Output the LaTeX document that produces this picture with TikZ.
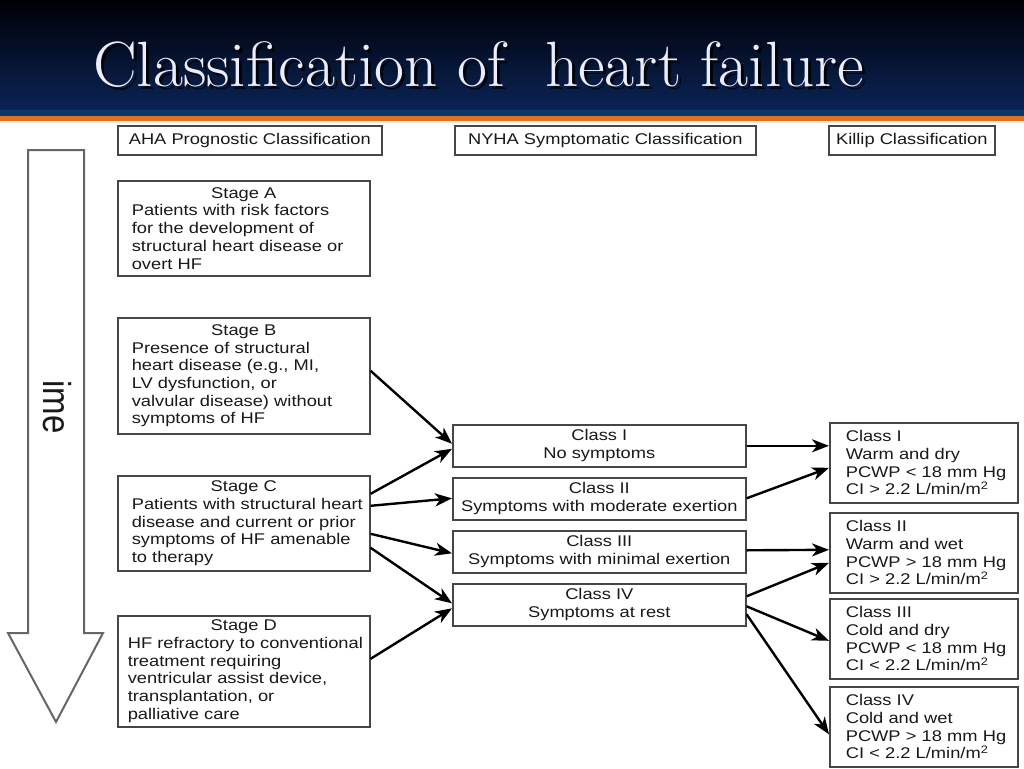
\documentclass[tikz,border=0pt]{standalone}
\usepackage{fontspec}
\usepackage{graphicx}
\newfontfamily\bodyfont{Liberation Sans}[FakeStretch=1.18]
\newfontfamily\plainsans{Liberation Sans}
\usetikzlibrary{arrows.meta,calc}
\definecolor{navytop}{RGB}{0,0,5}
\definecolor{navymid}{RGB}{3,16,46}
\definecolor{navybot}{RGB}{10,36,86}
\definecolor{bandblue}{RGB}{10,56,106}
\definecolor{orangeline}{RGB}{228,112,30}
\definecolor{titlecol}{RGB}{236,236,255}
\definecolor{boxline}{RGB}{70,70,70}
\definecolor{txtcol}{RGB}{25,25,25}
\newcommand{\hftitle}{\scalebox{1.02}[1]{\rmfamily\fontsize{64}{64}\selectfont Classification of\hspace{0.3em} heart failure}}
\begin{document}
\begin{tikzpicture}[x=1pt,y=-1pt,
  basebox/.style={draw=boxline, line width=1.6pt, fill=white, anchor=north west,
    inner ysep=0pt, text=txtcol, font=\bodyfont\fontsize{15.5}{17.7}\selectfont},
  stagebox/.style={basebox, align=left, minimum width=252pt},
  classbox/.style={basebox, align=center, minimum width=293pt, minimum height=42pt, inner xsep=0pt},
  killipbox/.style={basebox, align=left, text width=156pt, inner xsep=16pt, minimum height=80pt},
  hdrbox/.style={basebox, align=center, minimum height=29pt, inner xsep=0pt},
  conn/.style={-{Stealth[length=17pt,width=13pt,inset=5pt]}, line width=2.4pt, black},
  timearrow/.style={draw=black!60, line width=2pt, fill=white, line join=miter},
  titlenode/.style={inner sep=0pt, anchor=base west}
]
\useasboundingbox (0,0) rectangle (1024,768);
\fill[white] (0,0) rectangle (1024,768);
% header
\shade[top color=navytop, middle color=navymid, bottom color=navybot] (0,0) rectangle (1024,110);
\fill[bandblue] (0,110) rectangle (1024,116);
\fill[orangeline] (0,116) rectangle (1024,120.5);
\fill[orangeline!12] (0,120.5) rectangle (1024,122.5);
\node[titlenode, text=black, opacity=0.8] (titleshadow) at (96,89) {\hftitle};
\node[titlenode, text=titlecol] (title) at (93,86) {\hftitle};

% time arrow
\draw[timearrow] (28,150) -- (84,150) -- (84,633) -- (103,633) -- (56,722) -- (8,633) -- (28,633) -- cycle;
\node[rotate=-90, anchor=base west, inner sep=0pt, text=txtcol] (timelbl) at (43,380)
  {\scalebox{1}[1.18]{\plainsans\fontsize{33}{33}\selectfont ime}};

% column headers
\node[hdrbox, minimum width=264pt] (hAHA) at (117,125) {AHA Prognostic Classification};
\node[hdrbox, minimum width=301pt] (hNYHA) at (454,125) {NYHA Symptomatic Classification};
\node[hdrbox, minimum width=166pt] (hKillip) at (828,125) {Killip Classification};

% AHA stages
\node[stagebox, text width=224pt, inner xsep=14pt, minimum height=95pt] (sa) at (117,180)
  {\makebox[\hsize][c]{Stage A}\\ \mbox{Patients with risk factors}\\ \mbox{for the development of}\\ \mbox{structural heart disease or}\\ \mbox{overt HF}};
\node[stagebox, text width=224pt, inner xsep=14pt, minimum height=116pt] (sb) at (117,317)
  {\makebox[\hsize][c]{Stage B}\\ \mbox{Presence of structural}\\ \mbox{heart disease (e.g., MI,}\\ \mbox{LV dysfunction, or}\\ \mbox{valvular disease) without}\\ \mbox{symptoms of HF}};
\node[stagebox, text width=224pt, inner xsep=14pt, minimum height=95pt] (sc) at (117,475)
  {\makebox[\hsize][c]{Stage C}\\ \mbox{Patients with structural heart}\\ \mbox{disease and current or prior}\\ \mbox{symptoms of HF amenable}\\ \mbox{to therapy}};
\node[stagebox, text width=232pt, inner xsep=10pt, minimum height=111pt] (sd) at (117,615)
  {\makebox[\hsize][c]{Stage D}\\ \mbox{HF refractory to conventional}\\ \mbox{treatment requiring}\\ \mbox{ventricular assist device,}\\ \mbox{transplantation, or}\\ \mbox{palliative care}};

% NYHA classes
\node[classbox] (c1) at (452,424) {Class I\\ No symptoms};
\node[classbox] (c2) at (452,477) {Class II\\ Symptoms with moderate exertion};
\node[classbox] (c3) at (452,530) {Class III\\ Symptoms with minimal exertion};
\node[classbox] (c4) at (452,583) {Class IV\\ Symptoms at rest};

% Killip classes
\node[killipbox] (k1) at (829,422) {Class I\\ \mbox{Warm and dry}\\ \mbox{PCWP < 18 mm Hg}\\ \mbox{CI > 2.2 L/min/m\textsuperscript{2}}};
\node[killipbox] (k2) at (829,512) {Class II\\ \mbox{Warm and wet}\\ \mbox{PCWP > 18 mm Hg}\\ \mbox{CI > 2.2 L/min/m\textsuperscript{2}}};
\node[killipbox] (k3) at (829,598) {Class III\\ \mbox{Cold and dry}\\ \mbox{PCWP < 18 mm Hg}\\ \mbox{CI < 2.2 L/min/m\textsuperscript{2}}};
\node[killipbox] (k4) at (829,686) {Class IV\\ \mbox{Cold and wet}\\ \mbox{PCWP > 18 mm Hg}\\ \mbox{CI < 2.2 L/min/m\textsuperscript{2}}};

% connectors AHA -> NYHA
\draw[conn] ([yshift=5pt]sb.east) -- ([yshift=2pt]c1.west);
\draw[conn] ([yshift=29.5pt]sc.east) -- ([yshift=-3pt]c1.west);
\draw[conn] ([yshift=17.5pt]sc.east) -- ([yshift=0.5pt]c2.west);
\draw[conn] ([yshift=-10.5pt]sc.east) -- ([yshift=-1.5pt]c3.west);
\draw[conn] ([yshift=-24.5pt]sc.east) -- ([yshift=1.5pt]c4.west);
\draw[conn] ([yshift=12.5pt]sd.east) -- ([yshift=-3.5pt]c4.west);
% connectors NYHA -> Killip
\draw[conn] (c1.east) -- ([yshift=17pt]k1.west);
\draw[conn] ([yshift=0.5pt]c2.east) -- ([yshift=-5pt]k1.west);
\draw[conn] ([yshift=1.5pt]c3.east) -- ([yshift=3pt]k2.west);
\draw[conn] ([yshift=8.5pt]c4.east) -- ([yshift=-10pt]k2.west);
\draw[conn] ([yshift=-1.5pt]c4.east) -- ([yshift=-2pt]k3.west);
\draw[conn] ([yshift=-9.5pt]c4.east) -- ([yshift=-7.5pt]k4.west);
\end{tikzpicture}
\end{document}
